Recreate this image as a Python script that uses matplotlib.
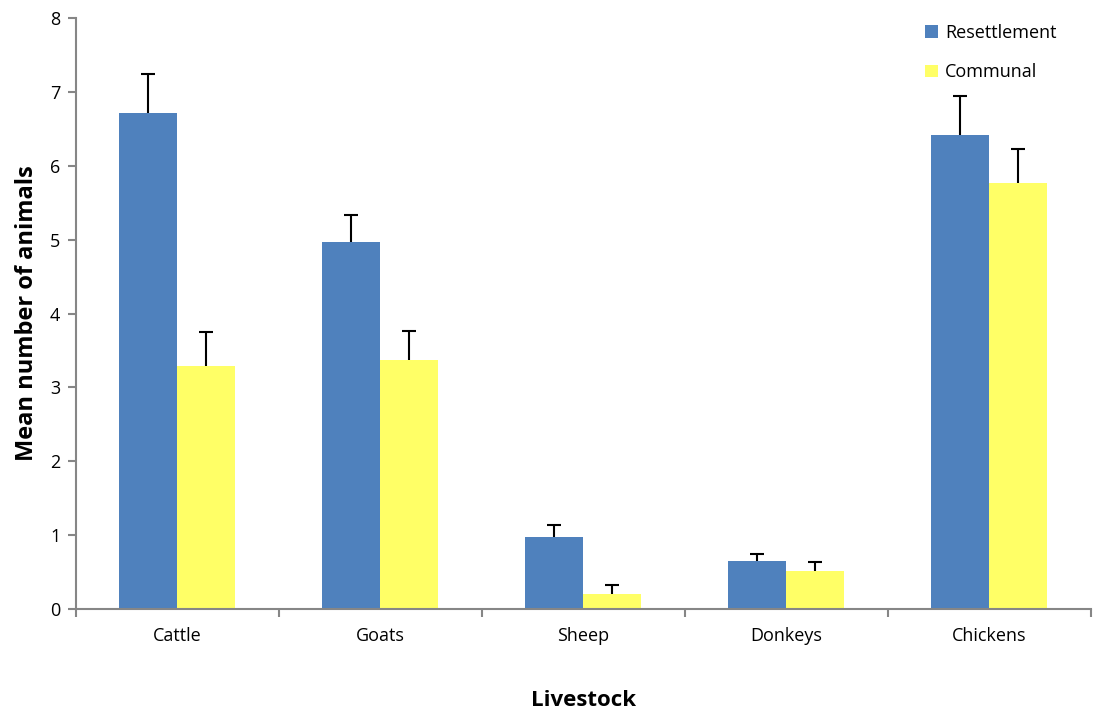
import matplotlib
matplotlib.use("Agg")
import matplotlib.pyplot as plt
import numpy as np

categories = ["Cattle", "Goats", "Sheep", "Donkeys", "Chickens"]
resettlement = [6.71, 4.97, 0.98, 0.65, 6.41]
resettlement_err = [0.53, 0.37, 0.16, 0.09, 0.54]
communal = [3.29, 3.37, 0.21, 0.51, 5.77]
communal_err = [0.46, 0.39, 0.11, 0.12, 0.46]
series_names = ["Resettlement", "Communal"]

plt.rcParams['font.family'] = ['Open Sans', 'DejaVu Sans']

fig = plt.figure(figsize=(10.98, 7.09), dpi=100)
ax = fig.add_axes([0.069, 0.141, 0.9245, 0.8336])

x = np.arange(len(categories))
w = 0.286
blue = "#4F81BD"
yellow = "#FFFF66"
ax.bar(x - w/2, resettlement, w, color=blue, label=series_names[0], zorder=2)
ax.bar(x + w/2, communal, w, color=yellow, label=series_names[1], zorder=2)
for xs, vals, errs in [(x - w/2, resettlement, resettlement_err), (x + w/2, communal, communal_err)]:
    _, caps, _ = ax.errorbar(xs, vals, yerr=[np.zeros(len(x)), errs],
                             fmt='none', ecolor='black', elinewidth=1.5, capsize=5,
                             capthick=1.5, zorder=3)
    caps[0].set_visible(False)

ax.set_xlim(-0.5, len(categories) - 0.5)
ax.set_ylim(0, 8)
ax.set_yticks(range(0, 9))
ax.set_xticks(x)
ax.set_xticklabels(categories)
ax.set_xticks(np.arange(-0.5, len(categories)), minor=True)
ax.tick_params(axis='x', which='major', length=0, pad=13, labelsize=13)
ax.tick_params(axis='x', which='minor', length=6, width=1.5, color='#868686', direction='out')
ax.tick_params(axis='y', length=6, width=1.5, color='#868686', labelsize=13, pad=5)

for s in ['top', 'right']:
    ax.spines[s].set_visible(False)
for s in ['left', 'bottom']:
    ax.spines[s].set_color('#868686')
    ax.spines[s].set_linewidth(1.5)

ax.set_ylabel("Mean number of animals", fontsize=17, fontweight='bold', labelpad=8)
ax.set_xlabel("Livestock", fontsize=16, fontweight='bold', labelpad=32)

leg = ax.legend(loc='upper left', bbox_to_anchor=(0.821, 1.018), frameon=False, fontsize=13,
                handlelength=0.7, handleheight=0.7, handletextpad=0.4, labelspacing=1.2)

fig.savefig("out.png", dpi=100)
